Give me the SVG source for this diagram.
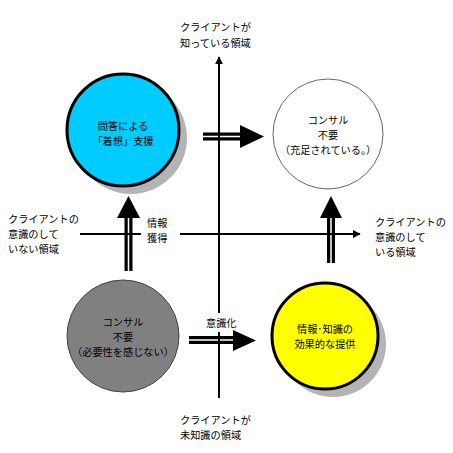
<svg xmlns="http://www.w3.org/2000/svg" width="453" height="453" viewBox="0 0 453 453">
<defs>
<style>
text{font-family:"Noto Sans CJK JP","Noto Sans",sans-serif;font-size:10.2px;fill:#000}
.c{text-anchor:middle}
.axis{stroke:#000;stroke-width:2;fill:none}
.shaft{stroke:#000;stroke-width:8;fill:none}
.gap{stroke:#fff;stroke-width:1.5;fill:none}
.head{fill:#000}
.shadow{fill:#b4b4b4}
</style>
<marker id="ah" viewBox="0 0 10 10" refX="9" refY="5" markerWidth="4" markerHeight="4" orient="auto" markerUnits="strokeWidth">
<path d="M0,0 L10,5 L0,10 Z" fill="#000"/>
</marker>
</defs>
<rect width="453" height="453" fill="#fff"/>

<g id="node-cyan">
<circle class="shadow" cx="131" cy="138" r="56"/>
<circle cx="123" cy="130" r="56" fill="#00ccff" stroke="#000" stroke-width="3"/>
<text class="c" x="123" y="130">問答による<tspan x="123" dy="15">「着想」支援</tspan></text>
</g>

<g id="node-white">
<circle cx="328" cy="134" r="55" fill="#fff" stroke="#666" stroke-width="1"/>
<text class="c" x="328" y="124">コンサル<tspan x="328" dy="14.8">不要</tspan><tspan x="328" dy="15">（充足されている。）</tspan></text>
</g>

<g id="node-gray">
<circle cx="123" cy="336" r="56" fill="#808080" stroke="#444" stroke-width="1"/>
<text class="c" x="123" y="326">コンサル<tspan x="123" dy="14.8">不要</tspan><tspan x="123" dy="14.8">（必要性を感じない）</tspan></text>
</g>

<g id="node-yellow">
<circle class="shadow" cx="333" cy="344" r="53"/>
<circle cx="325" cy="336" r="53" fill="#ffff00" stroke="#000" stroke-width="3"/>
<text class="c" x="325" y="333">情報･知識の<tspan x="325" dy="14.8">効果的な提供</tspan></text>
</g>

<g id="connectors">
<line class="shaft" x1="203" y1="136.5" x2="241" y2="136.5"/>
<line class="gap" x1="203" y1="136.5" x2="240" y2="136.5"/>
<polygon class="head" points="240,125 264,136.5 240,148"/>

<line class="shaft" x1="189" y1="340" x2="234" y2="340"/>
<line class="gap" x1="189" y1="340" x2="233" y2="340"/>
<polygon class="head" points="233,330 256,340.5 233,351"/>

<line class="shaft" x1="128.5" y1="271" x2="128.5" y2="217"/>
<line class="gap" x1="128.5" y1="271" x2="128.5" y2="218"/>
<polygon class="head" points="117,218 128.5,196 140,218"/>

<line class="shaft" x1="331" y1="263" x2="331" y2="217"/>
<line class="gap" x1="331" y1="263" x2="331" y2="218"/>
<polygon class="head" points="320,218 331,196 342,218"/>

<line class="axis" x1="219" y1="398" x2="219" y2="332"/>
<line class="axis" x1="219" y1="313" x2="219" y2="57" marker-end="url(#ah)"/>
<line class="axis" x1="80" y1="234" x2="141" y2="234"/>
<line class="axis" x1="180" y1="234" x2="360" y2="234" marker-end="url(#ah)"/>
</g>

<g id="labels">
<text x="180" y="31">クライアントが<tspan x="180" dy="16">知っている領域</tspan></text>
<text x="180" y="424">クライアントが<tspan x="180" dy="15">未知識の領域</tspan></text>
<text x="8" y="223">クライアントの<tspan x="8" dy="14.8">意識のして</tspan><tspan x="8" dy="14.8">いない領域</tspan></text>
<text x="375" y="226">クライアントの<tspan x="375" dy="14.8">意識のして</tspan><tspan x="375" dy="14.8">いる領域</tspan></text>
<text x="147" y="227">情報<tspan x="147" dy="15">獲得</tspan></text>
<text x="206" y="327">意識化</text>
</g>
</svg>
